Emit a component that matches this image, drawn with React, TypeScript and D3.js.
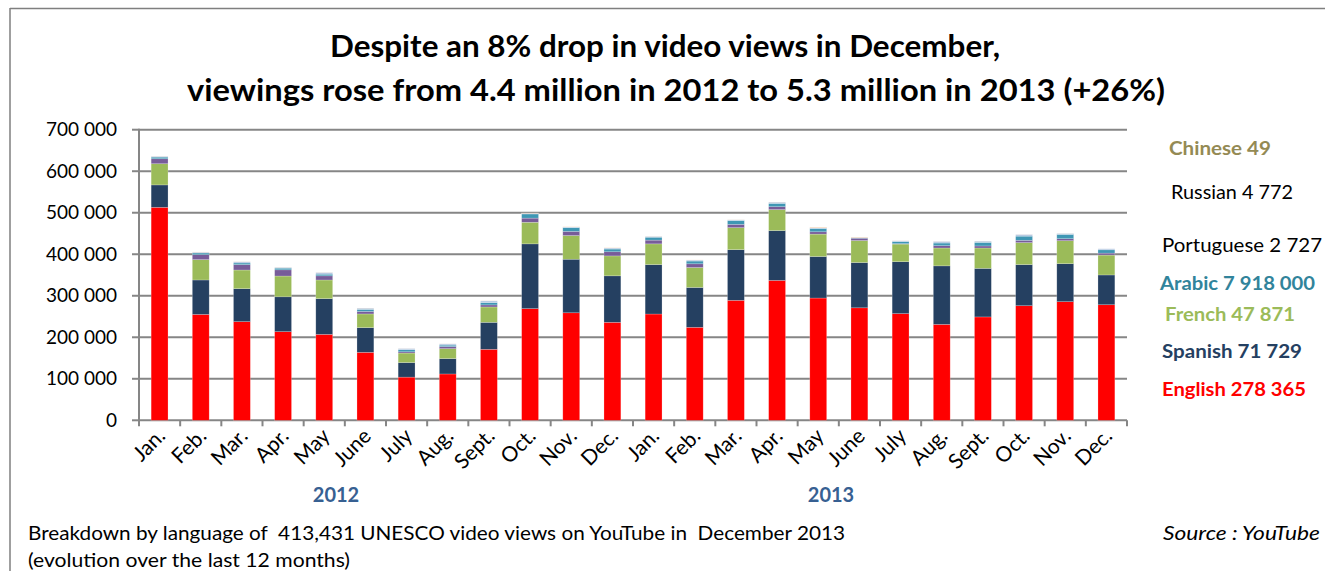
import React from "react";
import * as d3 from "d3";

const months = ["Jan.","Feb.","Mar.","Apr.","May","June","July","Aug.","Sept.","Oct.","Nov.","Dec.","Jan.","Feb.","Mar.","Apr.","May","June","July","Aug.","Sept.","Oct.","Nov.","Dec."];
const english = [513000,255000,237600,213500,207000,163700,104000,111600,171000,269000,259000,236000,256000,224000,289000,337000,294500,271000,257000,231000,249000,276000,285700,278365];
const spanish = [54000,83000,79400,84000,86000,59500,35000,37000,65000,156000,129000,112000,119000,96000,122000,120000,100000,109000,125000,141000,117000,99000,91500,71729];
const french = [51000,49000,45000,50000,45000,33000,23000,24000,37000,52000,57000,48000,50000,48000,53000,50500,54000,53000,42500,43000,49000,53000,55400,47871];
const russian = [12000,12000,13000,15000,10000,6000,3000,5000,5000,10000,10000,10000,9000,9000,8000,7000,5600,5600,1000,5600,5000,5600,4800,4772];
const arabic = [4000,4000,4000,4000,4000,5000,5000,3500,5600,10000,9000,6500,7000,6600,9000,8000,8000,1000,5000,6400,8600,10000,10400,7918];
const portuguese = [2000,2000,3000,2000,4000,3000,3000,3000,4000,1600,1600,2500,2000,2400,2000,3000,1500,500,2000,4000,3000,4000,2400,2727];
const chinese = [300,500,300,300,300,300,200,200,300,800,500,500,300,300,300,300,1500,1000,300,200,200,200,200,49];
const yTicks = [0,100000,200000,300000,400000,500000,600000,700000];
const years = ["2012","2013"];

const seriesNames = ["English","Spanish","French","Russian","Arabic","Portuguese","Chinese"];
const seriesValues = [english, spanish, french, russian, arabic, portuguese, chinese];
const seriesColors = ["#FF0000","#254061","#9BBB59","#775C99","#3F97B4","#B3C8E2","#F5BE8E"];

const legendItems = [
  { text: "Chinese 49", color: "#948A54", bold: true, x: 1169, y: 148, w: 102 },
  { text: "Russian 4 772", color: "#000000", bold: false, x: 1171, y: 192, w: 122 },
  { text: "Portuguese 2 727", color: "#000000", bold: false, x: 1162, y: 245, w: 160 },
  { text: "Arabic 7 918 000", color: "#31849B", bold: true, x: 1160, y: 283, w: 155 },
  { text: "French 47 871", color: "#9BBB59", bold: true, x: 1165, y: 314, w: 130 },
  { text: "Spanish 71 729", color: "#254061", bold: true, x: 1162, y: 351, w: 140 },
  { text: "English 278 365", color: "#FF0000", bold: true, x: 1162, y: 389, w: 144 },
];

export default function App() {
  const W = 1325, H = 571;
  const left = 139, right = 1127, top = 129.7, bottom = 420.3;
  const idx = months.map((_, i) => String(i));
  const x = d3.scaleBand<string>().domain(idx).range([left, right]).paddingInner(0.59).paddingOuter(0.295);
  const y = d3.scaleLinear().domain([0, 700000]).range([bottom, top]);

  const table = months.map((m, i) => {
    const row: any = { key: String(i) };
    seriesNames.forEach((s, k) => (row[s] = seriesValues[k][i]));
    return row;
  });
  const stacked = d3.stack<any>().keys(seriesNames)(table);
  const fmt = (v: number) => d3.format(",")(v).replace(/,/g, " ");
  const step = (right - left) / months.length;
  const font = "Lato, 'Open Sans', sans-serif";

  return (
    <svg width={W} height={H} style={{ position: "absolute", left: 0, top: 0, background: "#fff" }} fontFamily={font}>
      <rect x={0} y={0} width={W} height={H} fill="#fff" />
      <line x1={10} x2={W} y1={8.5} y2={8.5} stroke="#7f7f7f" strokeWidth={1.5} />
      <line x1={10} x2={10} y1={8} y2={H} stroke="#7f7f7f" strokeWidth={1.5} />
      <text x={665} y={57} textAnchor="middle" fontSize={30} fontWeight="bold" textLength={670} lengthAdjust="spacingAndGlyphs">Despite an 8% drop in video views in December,</text>
      <text x={676} y={101} textAnchor="middle" fontSize={30} fontWeight="bold" textLength={978} lengthAdjust="spacingAndGlyphs">viewings rose from 4.4 million in 2012 to 5.3 million in 2013 (+26%)</text>

      {yTicks.map((t) => (
        <g key={t}>
          <line x1={left} x2={right} y1={y(t)} y2={y(t)} stroke="#868686" strokeWidth={2} />
          <line x1={left - 7} x2={left} y1={y(t)} y2={y(t)} stroke="#868686" strokeWidth={2} />
          <text x={117} y={y(t) + 6.5} textAnchor="end" fontSize={19} fill="#000">{fmt(t)}</text>
        </g>
      ))}
      <line x1={left} x2={left} y1={top - 1} y2={bottom + 1} stroke="#868686" strokeWidth={2} />

      {stacked.map((layer, k) => (
        <g key={layer.key} fill={seriesColors[k]}>
          {layer.map((d, i) => (
            <rect key={i} x={x(String(i))} y={y(d[1])} width={x.bandwidth()} height={Math.max(0, y(d[0]) - y(d[1]))} stroke="rgba(255,255,255,0.35)" strokeWidth={0.6} />
          ))}
        </g>
      ))}

      {d3.range(months.length + 1).map((i) => (
        <line key={i} x1={left + i * step} x2={left + i * step} y1={bottom} y2={bottom + 6} stroke="#868686" strokeWidth={2} />
      ))}

      {months.map((m, i) => {
        const cx = (x(String(i)) as number) + x.bandwidth() / 2;
        return (
          <text key={i} transform={`translate(${cx + 7},${bottom + 17}) rotate(-45)`} textAnchor="end" fontSize={21} fill="#000">{m}</text>
        );
      })}

      {years.map((yr, j) => (
        <text key={yr} x={j === 0 ? 336 : 831} y={502} textAnchor="middle" fontSize={20} fontWeight="bold" fill="#376092">{yr}</text>
      ))}

      {legendItems.map((l) => (
        <text key={l.text} x={l.x} y={l.y + 7} fontSize={19} fontWeight={l.bold ? "bold" : "normal"} fill={l.color} textLength={l.w} lengthAdjust="spacingAndGlyphs">{l.text}</text>
      ))}

      <text x={28} y={540} fontSize={19} fill="#000" style={{ whiteSpace: "pre" }} textLength={817} lengthAdjust="spacingAndGlyphs">{"Breakdown by language of  413,431 UNESCO video views on YouTube in  December 2013"}</text>
      <text x={28} y={567} fontSize={19} fill="#000" textLength={322} lengthAdjust="spacingAndGlyphs">(evolution over the last 12 months)</text>
      <text x={1320} y={540} textAnchor="end" fontSize={19} fontStyle="italic" fill="#000" textLength={157} lengthAdjust="spacingAndGlyphs">Source : YouTube</text>
    </svg>
  );
}
